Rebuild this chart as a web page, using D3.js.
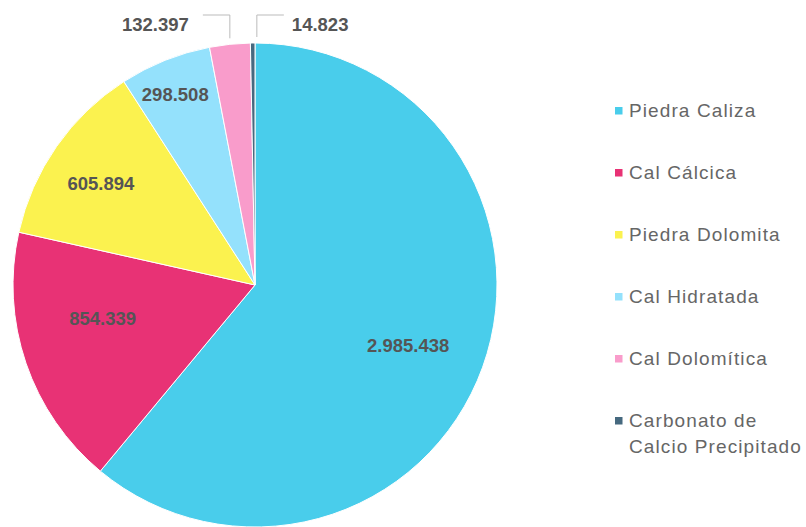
<!DOCTYPE html>
<html>
<head>
<meta charset="utf-8">
<script src="https://cdn.jsdelivr.net/npm/d3@7"></script>
<style>
  body { margin: 0; background: #fff; }
  svg text { font-family: "Liberation Sans", Arial, sans-serif; }
</style>
</head>
<body>
<svg id="chart" width="806" height="527"></svg>
<script>
// data
const categories = ["Piedra Caliza", "Cal Cálcica", "Piedra Dolomita", "Cal Hidratada", "Cal Dolomítica", "Carbonato de Calcio Precipitado"];
const values = [2985438, 854339, 605894, 298508, 132397, 14823];
const valueLabels = ["2.985.438", "854.339", "605.894", "298.508", "132.397", "14.823"];
const legendLines = [["Piedra Caliza"], ["Cal Cálcica"], ["Piedra Dolomita"], ["Cal Hidratada"], ["Cal Dolomítica"], ["Carbonato de", "Calcio Precipitado"]];
const colors = ["#49cdeb", "#e83275", "#fbf24f", "#94e1fc", "#f99ccb", "#46697f"];

// where inside each slice the value sits: share of the slice angle, share of the radius
const labelSpot = [[0.507, 0.68], [0.6, 0.645], [0.464, 0.762], [0.46, 0.854]];

const svg = d3.select("#chart");
const cx = 255, cy = 285, R = 242;

const color = d3.scaleOrdinal().domain(categories).range(colors);

const pie = d3.pie().sort(null).value(d => d.value);
const arcs = pie(categories.map((c, i) => ({ name: c, value: values[i], label: valueLabels[i] })));

const arc = d3.arc().innerRadius(0).outerRadius(R);

const g = svg.append("g").attr("transform", `translate(${cx},${cy})`);

g.selectAll("path.slice")
  .data(arcs)
  .enter()
  .append("path")
  .attr("class", "slice")
  .attr("d", arc)
  .attr("fill", d => color(d.data.name))
  .attr("stroke", "#fff")
  .attr("stroke-width", 1);

// small slices get an outside label with a leader line
const small = d => (d.endAngle - d.startAngle) < 0.3;

g.selectAll("text.inner")
  .data(arcs.filter(d => !small(d)))
  .enter()
  .append("text")
  .attr("class", "inner")
  .attr("transform", (d, i) => {
    const a = d.startAngle + (d.endAngle - d.startAngle) * labelSpot[i][0];
    const r = R * labelSpot[i][1];
    return `translate(${Math.sin(a) * r},${-Math.cos(a) * r})`;
  })
  .attr("text-anchor", "middle")
  .attr("dy", "0.35em")
  .attr("font-size", 18.5)
  .attr("font-weight", "bold")
  .attr("fill", "#555")
  .text(d => d.data.label);

const outer = arcs.filter(small);
let prevX = -Infinity;
outer.forEach(d => {
  const mid = (d.startAngle + d.endAngle) / 2;
  let x0 = Math.sin(mid) * R;
  x0 = Math.max(x0, prevX + 27);
  prevX = x0;
  const y0 = -Math.sqrt(R * R - x0 * x0) - 6;
  const yTop = -(R + 28);
  const dir = mid > Math.PI * 2 - 0.05 ? 1 : -1;
  const x1 = x0 + dir * 27;
  g.append("path")
    .attr("d", d3.line()([[x0, y0], [x0, yTop], [x1, yTop]]))
    .attr("fill", "none")
    .attr("stroke", "#bbb")
    .attr("stroke-width", 1);
  g.append("text")
    .attr("x", x1 + dir * (dir > 0 ? 8 : 14))
    .attr("y", yTop + 10)
    .attr("dy", "0.35em")
    .attr("text-anchor", dir > 0 ? "start" : "end")
    .attr("font-size", 18.5)
    .attr("font-weight", "bold")
    .attr("fill", "#555")
    .text(d.data.label);
});

// legend
const legend = svg.append("g").attr("transform", "translate(615,117)");
const item = legend.selectAll("g.item")
  .data(categories)
  .enter()
  .append("g")
  .attr("class", "item")
  .attr("transform", (d, i) => `translate(0,${i * 62})`);

item.append("rect")
  .attr("x", 0)
  .attr("y", -10)
  .attr("width", 7.5)
  .attr("height", 7.5)
  .attr("fill", d => color(d));

item.append("text")
  .attr("x", 14)
  .attr("font-size", 19)
  .attr("letter-spacing", 1.1)
  .attr("fill", "#666")
  .selectAll("tspan")
  .data((d, i) => legendLines[i])
  .enter()
  .append("tspan")
  .attr("x", 14)
  .attr("dy", (d, j) => j === 0 ? 0 : 26)
  .text(d => d);
</script>
</body>
</html>
